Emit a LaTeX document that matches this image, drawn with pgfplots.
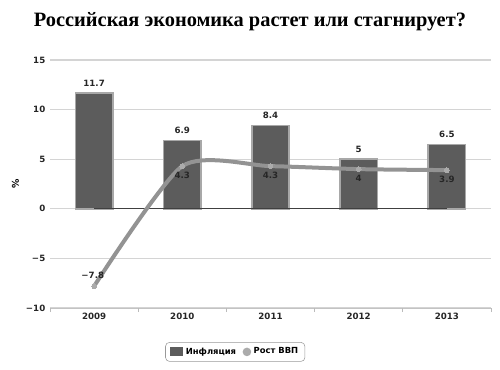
\documentclass[border=0pt]{standalone}
\usepackage{fontspec}
\setmainfont{DejaVu Sans}
\newfontfamily\titlefont{Liberation Serif}
\usepackage{pgfplots}
\pgfplotsset{compat=1.18}
\definecolor{barfill}{HTML}{5C5C5C}
\definecolor{baredge}{HTML}{A8A8A8}
\definecolor{linecol}{HTML}{939393}
\definecolor{markcol}{HTML}{ABABAB}
\definecolor{gridcol}{HTML}{D4D4D4}
\begin{document}
\begin{tikzpicture}
\path[use as bounding box] (0,0) rectangle (375pt,276.75pt);
\node[font=\titlefont\bfseries\fontsize{15.3}{18}\selectfont] at (187.5pt,260.25pt) {Российская экономика растет или стагнирует?};
\begin{axis}[
  at={(37.5pt,45.75pt)}, anchor=south west,
  scale only axis, width=330.75pt, height=186pt,
  xmin=-0.5, xmax=4.5, ymin=-10, ymax=15,
  ytick={-10,-5,0,5,10,15}, yticklabels={−10,−5,0,5,10,15},
  xtick={0,1,2,3,4}, xticklabels={2009,2010,2011,2012,2013},
  major tick length=0pt,
  extra x ticks={-0.5,0.5,1.5,2.5,3.5,4.5}, extra x tick labels={},
  extra x tick style={major tick length=3pt, tick align=outside, tick style={gridcol!70!gray, line width=0.6pt}, grid=none},
  axis x line*=bottom, axis y line*=left,
  x axis line style={gridcol!80!gray, line width=0.6pt},
  y axis line style={draw=none},
  ymajorgrids, grid style={gridcol, line width=0.8pt},
  tick label style={font=\bfseries\fontsize{6.5}{8}\selectfont, text=black!85},
  /pgf/number format/assume math mode=true,
  ylabel={\%}, ylabel style={font=\bfseries\fontsize{7}{8}\selectfont, at={(axis description cs:-0.078,0.5)}, anchor=center},
  legend style={at={(0.42,-0.177)}, anchor=center, draw=gray!80, rounded corners=3pt, font=\bfseries\fontsize{6.3}{8}\selectfont, legend columns=2, /tikz/every even column/.append style={column sep=3pt}, inner xsep=3pt, inner ysep=2pt},
  legend cell align=left,
  clip=false,
]
\addplot[ybar, bar width=28pt, fill=barfill, draw=baredge, line width=1.2pt, area legend,
  legend image code/.code={\fill[barfill, sharp corners] (0cm,-0.1cm) rectangle (0.32cm,0.1cm);},
  nodes near coords, every node near coord/.append style={font=\bfseries\fontsize{6.5}{8}\selectfont, text=black!85, anchor=south, yshift=1pt},
  point meta=explicit symbolic]
  coordinates {(0,11.7)[11.7] (1,6.9)[6.9] (2,8.4)[8.4] (3,5)[5] (4,6.5)[6.5]};
\addlegendentry{Инфляция}
\addplot[black!75, line width=1pt, forget plot] coordinates {(0,0) (4,0)};
\addplot[linecol, line width=3pt, smooth, tension=0.4, mark=*, mark options={fill=markcol, draw=markcol, line width=0pt, scale=0.9},
  legend image code/.code={\fill[markcol] (0.12cm,0) circle (1.6pt);}]
  coordinates {(0,-7.8) (1,4.3) (2,4.3) (3,4) (4,3.9)};
\addlegendentry{Рост ВВП}
\addplot[draw=none, mark=none, forget plot, nodes near coords, point meta=explicit symbolic,
  every node near coord/.append style={font=\bfseries\fontsize{6.5}{8}\selectfont, text=black!85, anchor=north, yshift=-1pt}]
  coordinates {(1,4.3)[4.3] (2,4.3)[4.3] (3,4)[4] (4,3.9)[3.9]};
\addplot[draw=none, mark=none, forget plot, nodes near coords, point meta=explicit symbolic,
  every node near coord/.append style={font=\bfseries\fontsize{6.5}{8}\selectfont, text=black!85, anchor=south, xshift=-1pt, yshift=2pt}]
  coordinates {(0,-7.8)[−7.8]};
\end{axis}
\end{tikzpicture}
\end{document}
